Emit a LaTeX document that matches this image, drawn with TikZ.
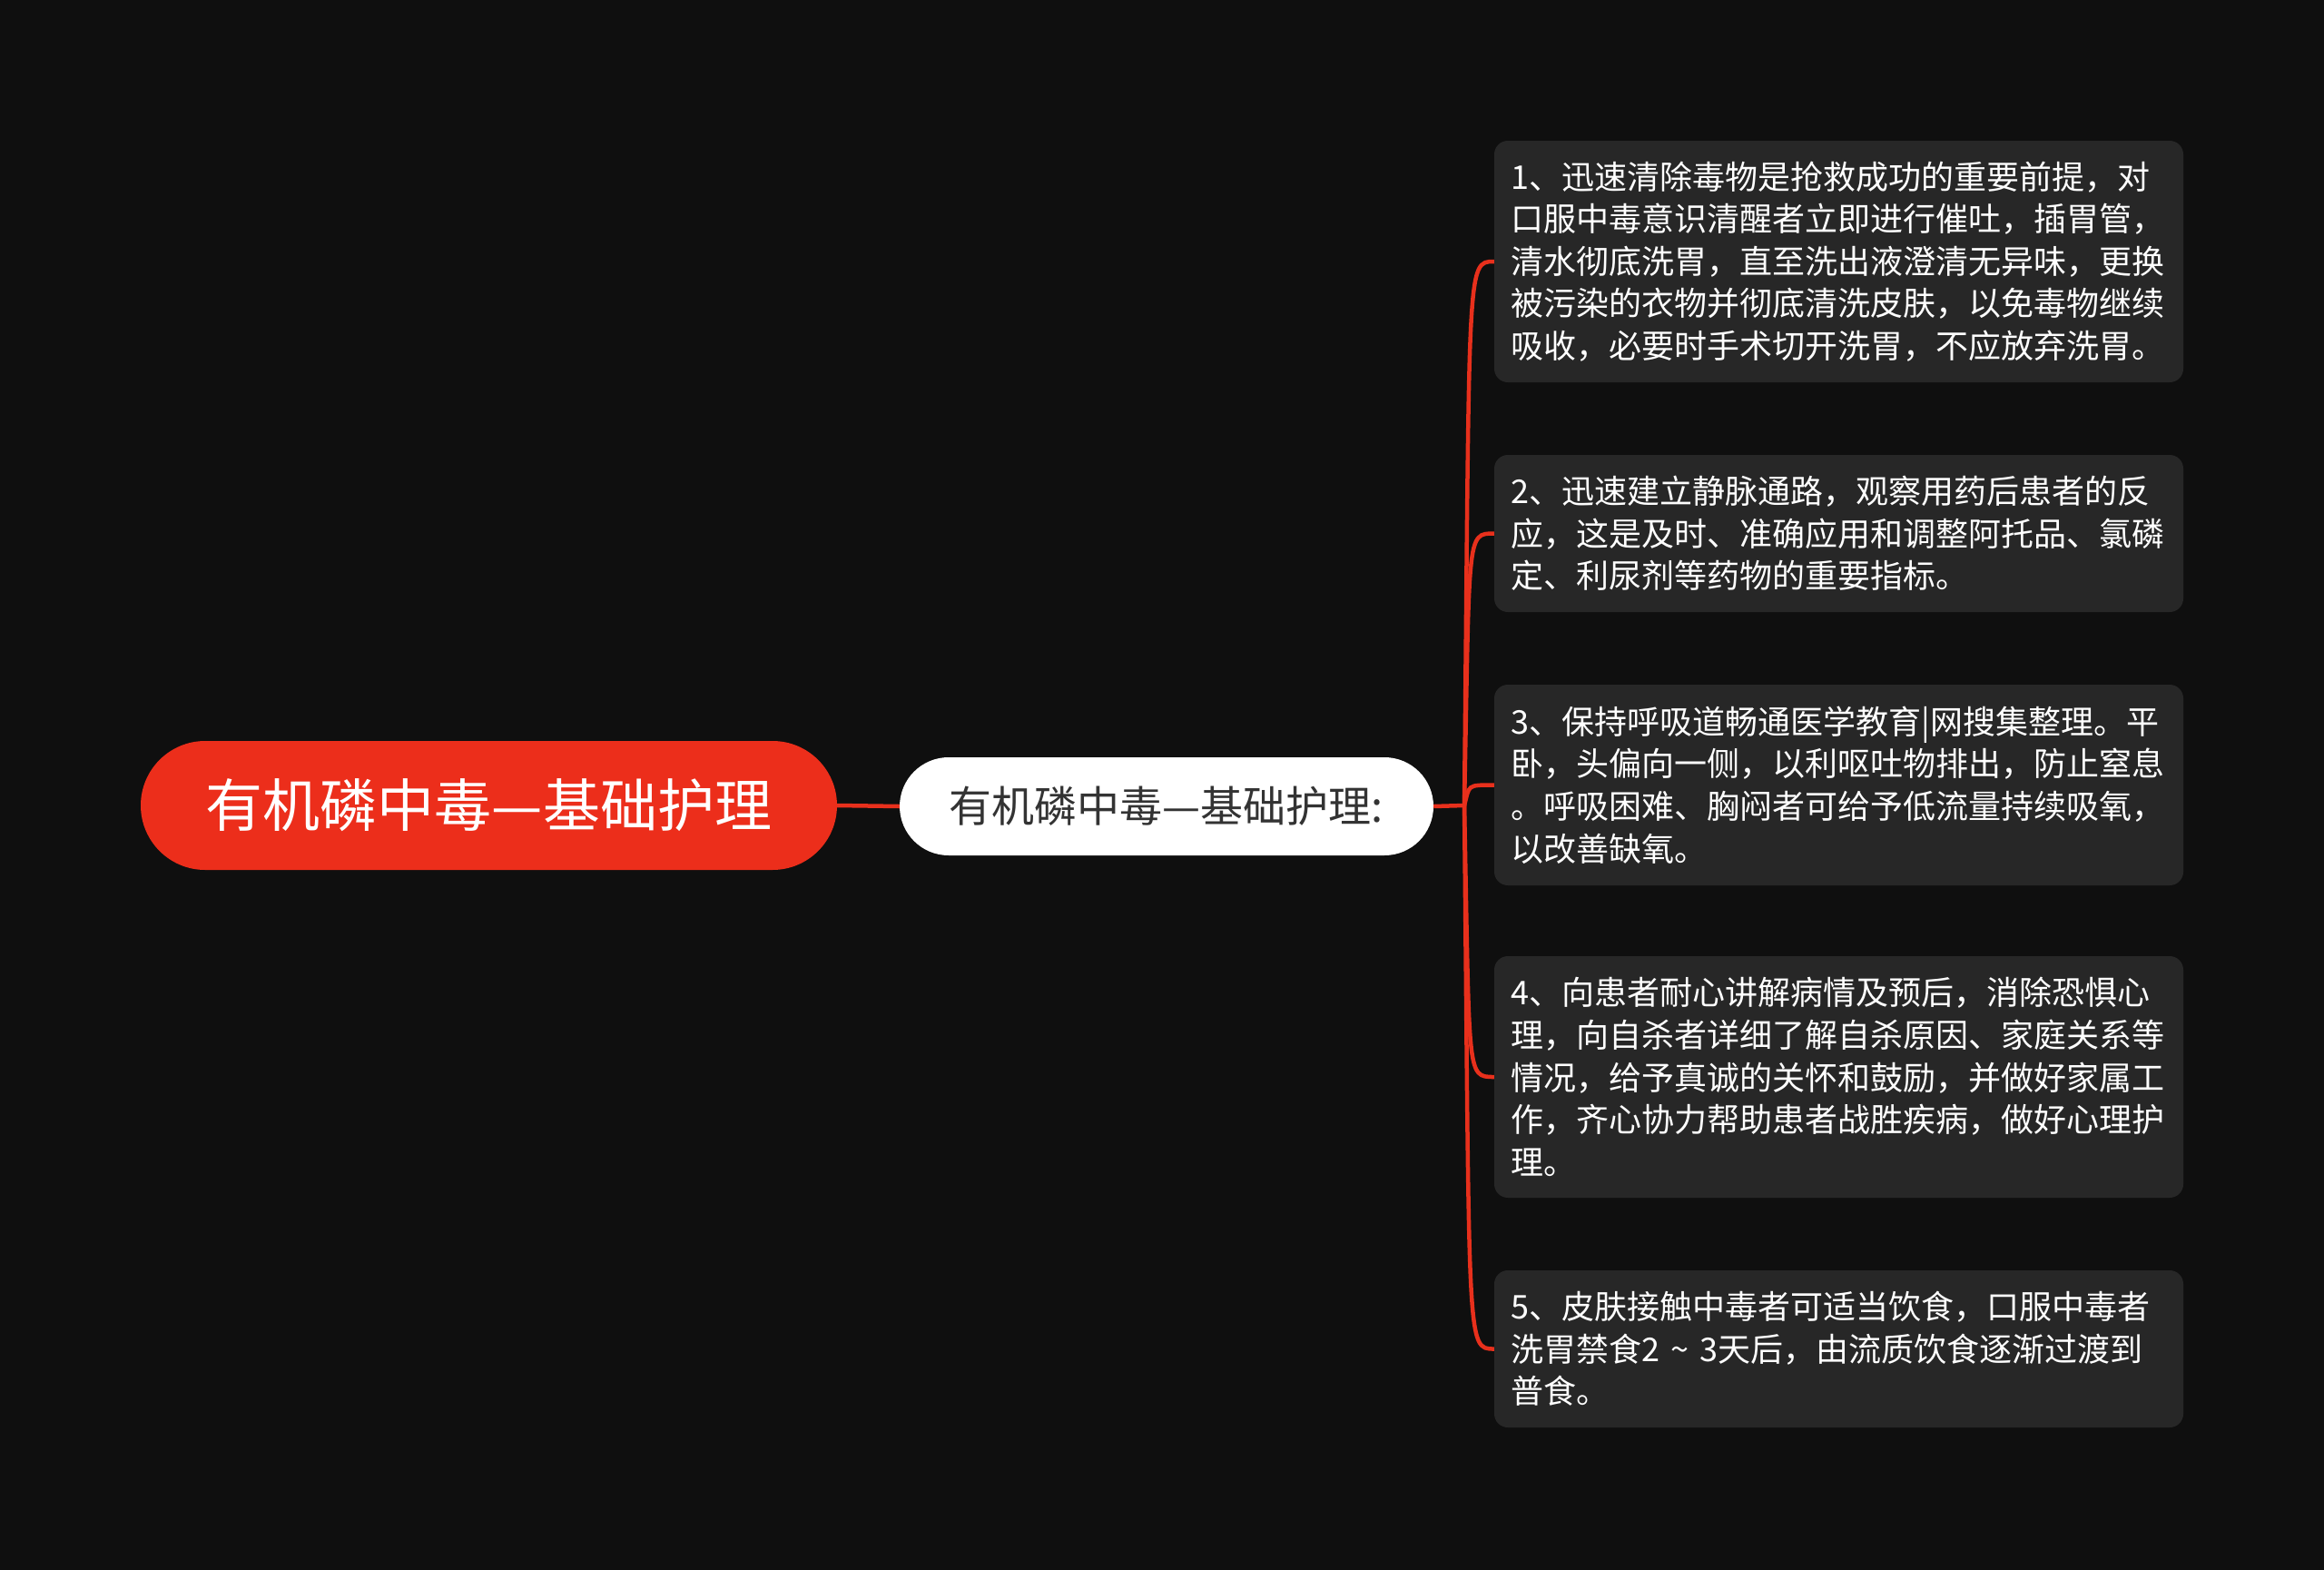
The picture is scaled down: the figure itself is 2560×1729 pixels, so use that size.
\documentclass[tikz,border=0pt]{standalone}
\usepackage{fontspec}
\setmainfont{Noto Sans CJK SC}
\definecolor{bgcol}{HTML}{0F0F0F}
\definecolor{rootred}{HTML}{EC2E1B}
\definecolor{linkred}{HTML}{E8301C}
\definecolor{boxgray}{HTML}{272727}
\definecolor{midtext}{HTML}{333333}
\begin{document}
\begin{tikzpicture}[x=1pt,y=-1pt,
  rootnode/.style={fill=rootred, rounded corners=71pt, minimum width=767pt, minimum height=142pt, inner sep=0pt, text=white, font=\fontsize{63}{70}\selectfont},
  midnode/.style={fill=white, rounded corners=54pt, minimum width=588pt, minimum height=108pt, inner sep=0pt, text=midtext, font=\fontsize{47}{52}\selectfont},
  leafbox/.style={fill=boxgray, rounded corners=15pt, text width=722pt, align=left, inner xsep=18.5pt, inner ysep=0pt, text=white, font=\fontsize{36}{46.6}\selectfont},
  link/.style={draw=linkred, line width=4.5pt}]
\useasboundingbox[fill=bgcol] (0,0) rectangle (2560,1729);

\node[rootnode] (root) at (538.5,887) {有机磷中毒—基础护理};
\node[midnode] (mid) at (1285,888) {有机磷中毒—基础护理:};

\node[leafbox, minimum height=266pt] (b1) at (2025.5,288) {1、迅速清除毒物是抢救成功的重要前提，对\\口服中毒意识清醒者立即进行催吐，插胃管，\\清水彻底洗胃，直至洗出液澄清无异味，更换\\被污染的衣物并彻底清洗皮肤，以免毒物继续\\吸收，必要时手术切开洗胃，不应放弃洗胃。};
\node[leafbox, minimum height=173pt] (b2) at (2025.5,587.5) {2、迅速建立静脉通路，观察用药后患者的反\\应，这是及时、准确应用和调整阿托品、氯磷\\定、利尿剂等药物的重要指标。};
\node[leafbox, minimum height=221pt] (b3) at (2025.5,864.5) {3、保持呼吸道畅通医学教育|网搜集整理。平\\卧，头偏向一侧，以利呕吐物排出，防止窒息\\。呼吸困难、胸闷者可给予低流量持续吸氧，\\以改善缺氧。};
\node[leafbox, minimum height=266pt] (b4) at (2025.5,1186) {4、向患者耐心讲解病情及预后，消除恐惧心\\理，向自杀者详细了解自杀原因、家庭关系等\\情况，给予真诚的关怀和鼓励，并做好家属工\\作，齐心协力帮助患者战胜疾病，做好心理护\\理。};
\node[leafbox, minimum height=173pt] (b5) at (2025.5,1485.5) {5、皮肤接触中毒者可适当饮食，口服中毒者\\洗胃禁食2 \textasciitilde{} 3天后，由流质饮食逐渐过渡到\\普食。};

\coordinate (j) at (1613,887);
\draw[link] (root.east) -- (mid.west);
\draw[link] (mid.east) -- (j);
\foreach \b in {b1,b2,b3,b4,b5}{
  \draw[link] (j) .. controls ([xshift=6pt]j |- \b.west) and ([xshift=2pt]j |- \b.west) .. (\b.west);
}
\end{tikzpicture}
\end{document}
